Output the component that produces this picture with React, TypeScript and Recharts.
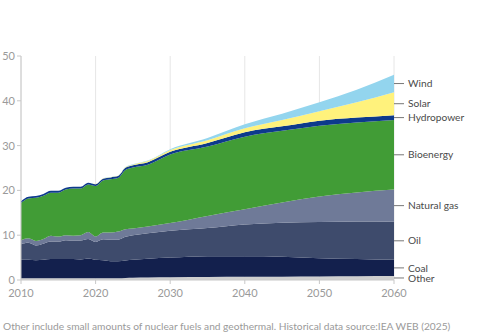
import { Area, AreaChart, CartesianGrid, XAxis, YAxis } from 'recharts';

const years = [2010, 2011, 2012, 2013, 2014, 2015, 2016, 2017, 2018, 2019, 2020, 2021, 2022, 2023, 2024, 2025, 2027, 2030, 2035, 2040, 2045, 2050, 2055, 2060];
const other = [0.4, 0.4, 0.4, 0.4, 0.4, 0.4, 0.4, 0.4, 0.4, 0.4, 0.4, 0.4, 0.4, 0.4, 0.45, 0.5, 0.55, 0.6, 0.65, 0.7, 0.75, 0.8, 0.85, 0.9];
const coal = [4.1, 4.1, 4.0, 4.1, 4.3, 4.3, 4.3, 4.3, 4.2, 4.4, 4.1, 4.0, 3.8, 3.8, 3.9, 4.0, 4.2, 4.4, 4.65, 4.6, 4.45, 4.05, 3.85, 3.6];
const oil = [3.5, 3.8, 3.3, 3.6, 3.9, 3.9, 4.2, 4.1, 4.2, 4.35, 4.0, 4.7, 4.8, 4.8, 5.3, 5.5, 5.7, 6.0, 6.3, 7.1, 7.6, 8.1, 8.35, 8.5];
const gas = [0.9, 1.0, 1.0, 1.05, 1.3, 1.1, 1.1, 1.1, 1.2, 1.55, 1.2, 1.5, 1.6, 1.8, 1.7, 1.5, 1.5, 1.7, 2.7, 3.4, 4.5, 5.7, 6.5, 7.2];
const bio = [8.3, 8.9, 9.65, 9.65, 9.6, 9.8, 10.2, 10.5, 10.4, 10.6, 11.3, 11.6, 11.9, 11.95, 13.2, 13.6, 13.8, 15.3, 15.5, 16.2, 16.0, 15.8, 15.6, 15.5];
const hydro = [0.4, 0.4, 0.4, 0.4, 0.4, 0.4, 0.4, 0.4, 0.4, 0.4, 0.4, 0.4, 0.4, 0.45, 0.5, 0.5, 0.55, 0.6, 0.8, 1.0, 1.0, 1.1, 1.1, 1.1];
const solar = [0, 0, 0, 0, 0, 0, 0, 0, 0, 0, 0.02, 0.03, 0.04, 0.05, 0.1, 0.15, 0.25, 0.4, 0.6, 0.85, 1.4, 2.1, 3.4, 5.1];
const wind = [0, 0, 0, 0, 0, 0, 0, 0, 0, 0, 0.01, 0.02, 0.03, 0.04, 0.05, 0.08, 0.12, 0.2, 0.5, 0.9, 1.4, 2.0, 2.8, 3.9];

const xTicks = [2010, 2020, 2030, 2040, 2050, 2060];
const yTicks = [0, 10, 20, 30, 40, 50];

// bottom to top
const series = [
  { key: 'other', name: 'Other', values: other, color: '#cfcfcf' },
  { key: 'coal', name: 'Coal', values: coal, color: '#13204d' },
  { key: 'oil', name: 'Oil', values: oil, color: '#3e4b6c' },
  { key: 'gas', name: 'Natural gas', values: gas, color: '#6f7a98' },
  { key: 'bio', name: 'Bioenergy', values: bio, color: '#419c36' },
  { key: 'hydro', name: 'Hydropower', values: hydro, color: '#0d3a8c' },
  { key: 'solar', name: 'Solar', values: solar, color: '#fff27c' },
  { key: 'wind', name: 'Wind', values: wind, color: '#93d5ee' },
];

const rows = years.map((year, i) => {
  const row: Record<string, number> = { year };
  series.forEach((s) => (row[s.key] = s.values[i]));
  return row;
});

// right-hand labels sit at the middle of each band in the last year
const last = years.length - 1;
let acc = 0;
const labelTicks: number[] = [];
const labelNames = new Map<number, string>();
series.forEach((s) => {
  const mid = acc + s.values[last] / 2;
  acc += s.values[last];
  labelTicks.push(mid);
  labelNames.set(mid, s.name);
});

const font = 'Lato, "Open Sans", sans-serif';

export default function App() {
  return (
    <div style={{ position: 'absolute', left: 0, top: 0, width: 480, height: 335, background: '#fff', fontFamily: font }}>
      <AreaChart width={480} height={300} data={rows} margin={{ top: 56, right: 0, bottom: 0, left: 0 }}>
        <CartesianGrid horizontal={false} stroke="#e6e6e6" />
        <XAxis
          dataKey="year"
          type="number"
          domain={[2010, 2060]}
          ticks={xTicks}
          height={20}
          tickSize={4}
          tickMargin={5}
          stroke="#c8c8c8"
          tick={{ fontSize: 11, fill: '#9a9a9a' }}
        />
        <YAxis
          yAxisId="left"
          domain={[0, 50]}
          ticks={yTicks}
          width={21}
          tickSize={4}
          tickMargin={2}
          stroke="#c8c8c8"
          tick={{ fontSize: 11, fill: '#9a9a9a' }}
        />
        <YAxis
          yAxisId="right"
          orientation="right"
          type="number"
          domain={[0, 50]}
          allowDataOverflow
          ticks={labelTicks}
          interval={0}
          width={86}
          axisLine={false}
          tickSize={10}
          tickMargin={4}
          tickLine={{ stroke: '#777' }}
          tick={{ fontSize: 10.2, fill: '#4a4a4a', textAnchor: 'start' }}
          tickFormatter={(v: number) => labelNames.get(v) ?? ''}
        />
        {series.map((s) => (
          <Area
            key={s.key}
            yAxisId="left"
            type="monotone"
            dataKey={s.key}
            stackId="a"
            stroke="none"
            fill={s.color}
            fillOpacity={1}
            isAnimationActive={false}
          />
        ))}
        {/* invisible series so the label axis gets drawn */}
        <Area
          yAxisId="right"
          type="monotone"
          dataKey="other"
          stroke="none"
          fill="none"
          isAnimationActive={false}
        />
      </AreaChart>
      <div style={{ position: 'absolute', left: 3, top: 320, fontSize: 10.2, color: '#9a9a9a', whiteSpace: 'nowrap' }}>
        Other include small amounts of nuclear fuels and geothermal. Historical data source:IEA WEB (2025)
      </div>
    </div>
  );
}
